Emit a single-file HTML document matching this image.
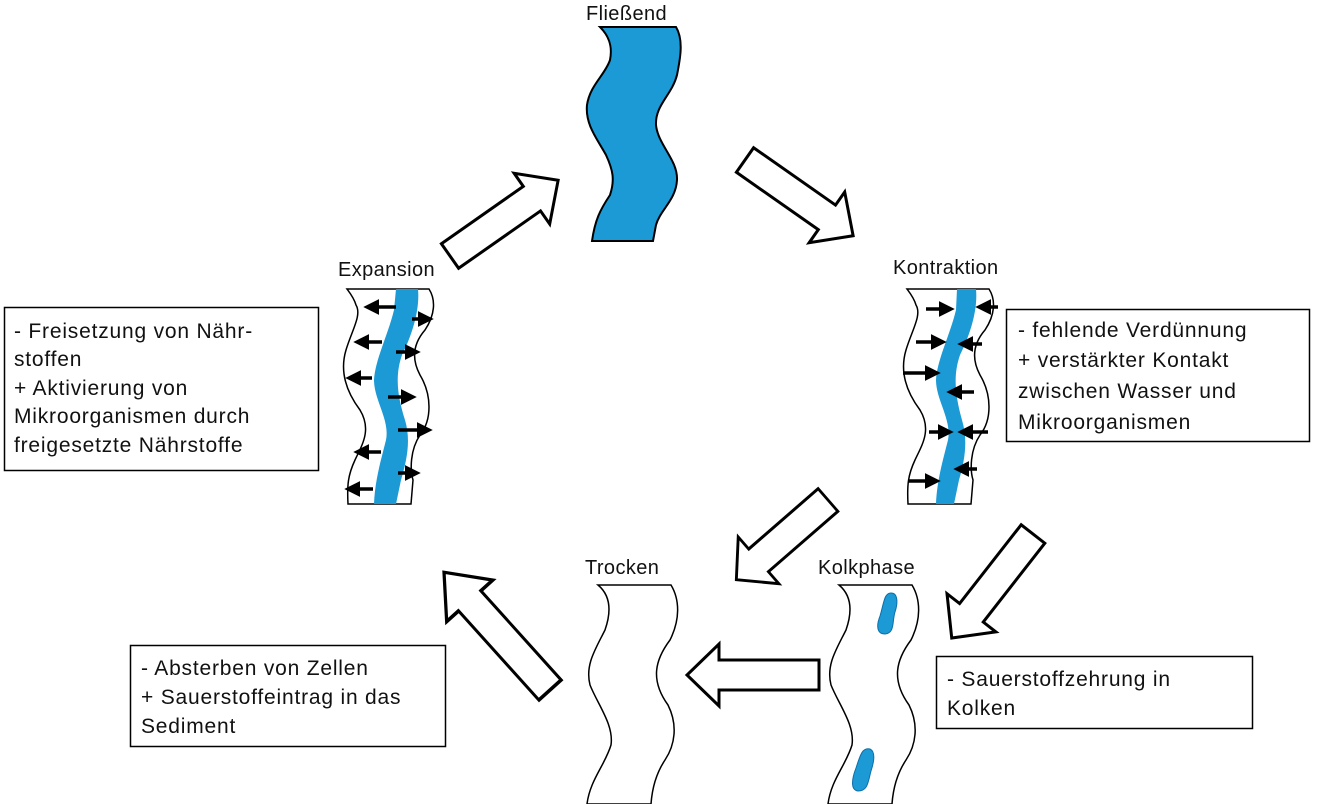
<!DOCTYPE html>
<html><head><meta charset="utf-8"><style>
html,body{margin:0;padding:0;background:#fff;}
svg{display:block;}
text{font-family:"Liberation Sans",sans-serif;font-size:21px;letter-spacing:0.8px;fill:#111;}
text.lbl{font-size:20px;letter-spacing:0.4px;}
</style></head><body>
<svg width="1323" height="804" viewBox="0 0 1323 804" xmlns="http://www.w3.org/2000/svg">
<defs>
<marker id="ah" markerWidth="4.5" markerHeight="4.5" refX="2" refY="2.25" orient="auto" markerUnits="strokeWidth"><path d="M0,0 L4.5,2.25 L0,4.5 z" fill="#000"/></marker>
<polygon id="big" points="0,-15 100,-15 100,-31 132,0 100,31 100,15 0,15" fill="#fff" stroke="#000" stroke-width="3" stroke-linejoin="miter"/>
</defs>

<!-- Fließend -->
<text class="lbl" x="586" y="20">Fließend</text>
<path d="M600,27 L676,27 C684,40 680,60 677,75 C672,95 655,105 656,125 C658,145 678,160 677,180 C676,200 660,210 656,225 L653,241 L592,241 C595,220 600,210 610,195 C615,180 613,170 606,155 C598,140 585,125 587,105 C590,85 605,75 610,60 C613,45 608,35 600,27 Z" fill="#1b9ad6" stroke="#000" stroke-width="2"/>

<!-- Expansion -->
<text class="lbl" x="338" y="276">Expansion</text>
<path d="M347,289 L429,289 C436,300 435,315 425,330 C412,345 412,360 420,375 C432,395 432,420 420,435 C410,450 410,470 413,480 L411,504 L348,504 C347,485 348,475 355,460 C362,445 372,430 360,410 C345,390 340,370 346,350 C352,330 362,315 356,305 C354,298 350,293 347,289 Z" fill="#fff" stroke="#000" stroke-width="1.5"/>
<path d="M396,289 L418,289 C420,310 412,335 402,355 C395,375 397,395 405,420 C411,440 407,460 401,480 L396,504 L374,504 C375,480 381,460 386,440 C390,420 374,400 374,380 C375,360 388,335 394,310 Z" fill="#1b9ad6"/>
<g stroke="#000" stroke-width="3.5" marker-end="url(#ah)">
<line x1="396" y1="307" x2="372" y2="307"/>
<line x1="412" y1="319" x2="425" y2="319"/>
<line x1="382" y1="342" x2="362" y2="342"/>
<line x1="396" y1="352" x2="412" y2="352"/>
<line x1="372" y1="378" x2="354" y2="378"/>
<line x1="388" y1="397" x2="408" y2="397"/>
<line x1="398" y1="430" x2="424" y2="430"/>
<line x1="381" y1="452" x2="362" y2="452"/>
<line x1="398" y1="473" x2="412" y2="473"/>
<line x1="373" y1="489" x2="353" y2="489"/>
</g>

<!-- Kontraktion -->
<text class="lbl" x="893" y="274">Kontraktion</text>
<path d="M907,289 L989,289 C996,300 995,315 985,330 C972,345 972,360 980,375 C992,395 992,420 980,435 C970,450 970,470 973,480 L971,504 L908,504 C907,485 908,475 915,460 C922,445 932,430 920,410 C905,390 900,370 906,350 C912,330 922,315 916,305 C914,298 910,293 907,289 Z" fill="#fff" stroke="#000" stroke-width="1.5"/>
<path d="M957,289 L976,289 C978,310 970,335 960,355 C953,375 955,395 962,420 C968,440 965,460 959,480 L954,504 L936,504 C937,480 943,460 948,440 C952,420 936,400 936,380 C937,360 950,335 956,310 Z" fill="#1b9ad6"/>
<g stroke="#000" stroke-width="3.5" marker-end="url(#ah)">
<line x1="926" y1="309" x2="946" y2="309"/>
<line x1="998" y1="307" x2="984" y2="307"/>
<line x1="916" y1="342" x2="938" y2="342"/>
<line x1="982" y1="344" x2="966" y2="344"/>
<line x1="903" y1="373" x2="932" y2="373"/>
<line x1="974" y1="392" x2="955" y2="392"/>
<line x1="929" y1="432" x2="945" y2="432"/>
<line x1="988" y1="432" x2="966" y2="432"/>
<line x1="977" y1="469" x2="962" y2="469"/>
<line x1="909" y1="481" x2="932" y2="481"/>
</g>

<!-- Trocken -->
<text class="lbl" x="585" y="574">Trocken</text>
<path d="M598,585 L671,585 C680,600 680,620 670,640 C655,660 650,680 668,705 C678,725 675,745 665,760 C655,775 652,790 651,804 L587,804 C590,780 605,765 611,745 C614,725 598,705 590,685 C585,665 595,650 605,630 C612,610 610,595 598,585 Z" fill="#fff" stroke="#000" stroke-width="1.5"/>

<!-- Kolkphase -->
<text class="lbl" x="818" y="574">Kolkphase</text>
<path d="M839,585 L912,585 C921,600 921,620 911,640 C896,660 891,680 909,705 C919,725 916,745 906,760 C896,775 893,790 892,804 L828,804 C831,780 846,765 852,745 C855,725 839,705 831,685 C826,665 836,650 846,630 C853,610 851,595 839,585 Z" fill="#fff" stroke="#000" stroke-width="1.5"/>
<path d="M891,593 C898,593 898,603 895,612 C892,622 895,633 885,634 C877,634 876,626 880,616 C884,603 884,593 891,593 Z" fill="#1b9ad6" stroke="#0d6fa8" stroke-width="1"/>
<path d="M870,749 C876,752 874,762 871,771 C868,782 868,791 858,791 C850,790 852,778 856,768 C860,756 862,747 870,749 Z" fill="#1b9ad6" stroke="#0d6fa8" stroke-width="1"/>

<!-- big arrows -->
<use href="#big" transform="translate(450,256) rotate(-35)"/>
<use href="#big" transform="translate(745,160) rotate(35)"/>
<use href="#big" transform="translate(828,500) rotate(139) scale(0.92,1)"/>
<use href="#big" transform="translate(1033,534) rotate(128)"/>
<use href="#big" transform="translate(819,675) rotate(180)"/>
<use href="#big" transform="translate(550,690) rotate(-132) scale(1.2,1)"/>

<!-- text boxes -->
<rect x="4.5" y="307.5" width="314" height="163" fill="#fff" stroke="#000" stroke-width="1.5"/>
<text x="14" y="338">- Freisetzung von Nähr-</text>
<text x="14" y="366">stoffen</text>
<text x="14" y="395">+ Aktivierung von</text>
<text x="14" y="423">Mikroorganismen durch</text>
<text x="14" y="452">freigesetzte  Nährstoffe</text>

<rect x="1006.5" y="309.5" width="303" height="132" fill="#fff" stroke="#000" stroke-width="1.5"/>
<text x="1018" y="337">- fehlende  Verdünnung</text>
<text x="1018" y="367">+ verstärkter  Kontakt</text>
<text x="1018" y="398">zwischen  Wasser  und</text>
<text x="1018" y="429">Mikroorganismen</text>

<rect x="130.5" y="645.5" width="315" height="101" fill="#fff" stroke="#000" stroke-width="1.5"/>
<text x="141" y="675">- Absterben  von Zellen</text>
<text x="141" y="704">+ Sauerstoffeintrag  in das</text>
<text x="141" y="733">Sediment</text>

<rect x="936.5" y="656.5" width="316" height="72" fill="#fff" stroke="#000" stroke-width="1.5"/>
<text x="947" y="686">- Sauerstoffzehrung  in</text>
<text x="947" y="715">Kolken</text>
</svg>
</body></html>
